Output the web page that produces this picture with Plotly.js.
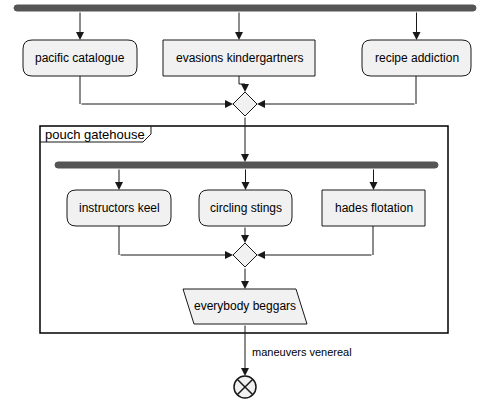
<!DOCTYPE html>
<html>
<head>
<meta charset="utf-8">
<script src="https://cdn.plot.ly/plotly-3.0.1.min.js"></script>
<style>body{margin:0;background:#fff}</style>
</head>
<body>
<div id="chart" style="width:491px;height:406px"></div>
<script>
// diagram text
var topLabels = ["pacific catalogue", "evasions kindergartners", "recipe addiction"];
var innerLabels = ["instructors keel", "circling stings", "hades flotation"];
var groupLabel = "pouch gatehouse";
var ioLabel = "everybody beggars";
var edgeLabel = "maneuvers venereal";

// layout table: [x0, x1, rounded]
var topBoxes = [[23, 137, true], [163, 315, false], [362, 471, true]];
var innerBoxes = [[67, 171, true], [199, 292, true], [322, 425, false]];

var ink = "#181818", fill = "#f1f1f1";
var shapes = [], anns = [];

function box(x0, y0, x1, y1, rounded) {
  var r = rounded ? 9 : 0, p;
  if (r) {
    p = "M" + (x0 + r) + "," + y0 + " H" + (x1 - r) + " Q" + x1 + "," + y0 + " " + x1 + "," + (y0 + r) +
        " V" + (y1 - r) + " Q" + x1 + "," + y1 + " " + (x1 - r) + "," + y1 + " H" + (x0 + r) +
        " Q" + x0 + "," + y1 + " " + x0 + "," + (y1 - r) + " V" + (y0 + r) + " Q" + x0 + "," + y0 + " " + (x0 + r) + "," + y0 + " Z";
  } else {
    p = "M" + x0 + "," + y0 + " H" + x1 + " V" + y1 + " H" + x0 + " Z";
  }
  shapes.push({type: "path", path: p, fillcolor: fill, line: {color: ink, width: 1}});
}
function text(x, y, t, anchor, size) {
  anns.push({x: x, y: y, text: t, showarrow: false, xanchor: anchor || "center",
             font: {size: size || 12, color: "#000"}});
}
function poly(pts, w) {
  var p = "M" + pts.map(function (q) { return q[0] + "," + q[1]; }).join(" L");
  shapes.push({type: "path", path: p, line: {color: ink, width: w || 1}});
}
function arrow(x0, y0, x1, y1) {
  anns.push({x: x1, y: y1, ax: x0, ay: y0, axref: "x", ayref: "y", text: "",
             showarrow: true, arrowhead: 2, arrowsize: 1.6, arrowwidth: 1, arrowcolor: ink, standoff: 0});
}
function bar(x0, x1, y0, y1) {
  shapes.push({type: "path", path: "M" + (x0 + 3) + "," + y0 + " H" + (x1 - 3) + " Q" + x1 + "," + y0 + " " + x1 + "," + ((y0 + y1) / 2) +
               " Q" + x1 + "," + y1 + " " + (x1 - 3) + "," + y1 + " H" + (x0 + 3) + " Q" + x0 + "," + y1 + " " + x0 + "," + ((y0 + y1) / 2) +
               " Q" + x0 + "," + y0 + " " + (x0 + 3) + "," + y0 + " Z",
               fillcolor: "#555555", line: {color: "#555555", width: 1}});
}
function diamond(cx, cy) {
  shapes.push({type: "path", path: "M" + cx + "," + (cy - 12) + " L" + (cx + 12) + "," + cy + " L" + cx + "," + (cy + 12) + " L" + (cx - 12) + "," + cy + " Z",
               fillcolor: fill, line: {color: ink, width: 1}});
}

// top fork
bar(14, 476, 5, 11);
topBoxes.forEach(function (b, i) {
  var cx = (b[0] + b[1]) / 2;
  arrow(cx, 11, cx, 40);
  box(b[0], 40, b[1], 76, b[2]);
  text(cx, 58, topLabels[i]);
});
diamond(245, 104);
poly([[80, 76], [80, 104]]); arrow(80, 104, 233, 104);
poly([[416, 76], [416, 104]]); arrow(416, 104, 257, 104);
poly([[239, 76], [239, 84], [245, 84]]); arrow(245, 84, 245, 92);

// group frame
shapes.push({type: "rect", x0: 40, x1: 448, y0: 126, y1: 333, line: {color: "#000", width: 1.5}});
poly([[40, 142], [143, 142], [151, 134], [151, 126]]);
text(43, 134, groupLabel, "left", 13);

arrow(245, 116, 245, 162);
bar(55, 438, 162, 168);
innerBoxes.forEach(function (b, i) {
  var cx = (b[0] + b[1]) / 2;
  arrow(cx, 168, cx, 190);
  box(b[0], 190, b[1], 226, b[2]);
  text(cx, 208, innerLabels[i]);
});
diamond(245, 255);
poly([[119, 226], [119, 255]]); arrow(119, 255, 233, 255);
poly([[373, 226], [373, 255]]); arrow(373, 255, 257, 255);
arrow(245, 226, 245, 243);
arrow(245, 267, 245, 289);

// io parallelogram
shapes.push({type: "path", path: "M183,289 L296,289 L307,324 L194,324 Z", fillcolor: fill, line: {color: ink, width: 1}});
text(245, 306, ioLabel);

arrow(245, 324, 245, 376);
text(250, 352, edgeLabel, "left", 11);

// end node
shapes.push({type: "circle", x0: 234, x1: 256, y0: 376, y1: 398, fillcolor: fill, line: {color: ink, width: 1.5}});
poly([[237.2, 379.2], [252.8, 394.8]], 1.5);
poly([[252.8, 379.2], [237.2, 394.8]], 1.5);

Plotly.newPlot("chart", [], {
  width: 491, height: 406,
  margin: {l: 0, r: 0, t: 0, b: 0},
  paper_bgcolor: "#fff", plot_bgcolor: "#fff",
  font: {family: "Liberation Sans, Arial, sans-serif"},
  xaxis: {range: [0, 491], visible: false, fixedrange: true},
  yaxis: {range: [406, 0], visible: false, fixedrange: true},
  shapes: shapes, annotations: anns, showlegend: false
}, {displayModeBar: false, staticPlot: true});
</script>
</body>
</html>
